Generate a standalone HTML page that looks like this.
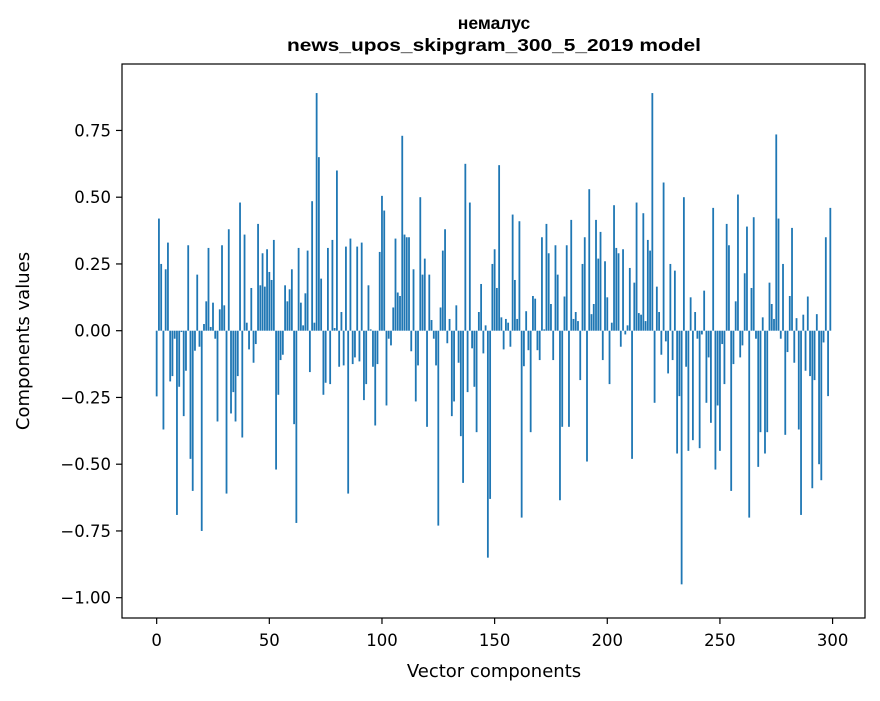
<!DOCTYPE html>
<html><head><meta charset="utf-8">
<style>
html,body{margin:0;padding:0;background:#fff;}
svg text{font-family:"DejaVu Sans","Liberation Sans",sans-serif;fill:#000;}
</style></head>
<body>
<svg id="chart" width="880" height="696" viewBox="0 0 880 696" xmlns="http://www.w3.org/2000/svg">
<rect width="880" height="696" fill="#fff"/>
<text x="494" y="29" text-anchor="middle" font-size="17.5" font-weight="bold" style="font-family:'Liberation Sans',sans-serif">немалус</text>
<text x="494" y="51" text-anchor="middle" font-size="17.5" font-weight="bold" textLength="414" lengthAdjust="spacingAndGlyphs" style="font-family:'Liberation Sans',sans-serif">news_upos_skipgram_300_5_2019 model</text>
<g id="bars"></g>
<g id="axes"></g>
<text x="494" y="677" text-anchor="middle" font-size="18">Vector components</text>
<text x="29" y="341" text-anchor="middle" font-size="18" transform="rotate(-90 29 341)">Components values</text>
</svg>
<script>
const values = [
-0.246,0.42,0.25,-0.37,0.23,0.33,-0.19,-0.17,-0.03,-0.69,
-0.21,-0.005,-0.32,-0.15,0.32,-0.48,-0.60,-0.075,0.21,-0.06,
-0.75,0.025,0.11,0.31,0.014,0.105,-0.03,-0.34,0.08,0.32,
0.095,-0.61,0.38,-0.31,-0.23,-0.34,-0.17,0.48,-0.40,0.36,
0.03,-0.07,0.16,-0.12,-0.05,0.40,0.17,0.29,0.165,0.305,
0.22,0.19,0.34,-0.52,-0.24,-0.11,-0.09,0.17,0.11,0.155,
0.23,-0.35,-0.72,0.31,0.105,0.02,0.14,0.30,-0.155,0.485,
0.03,0.89,0.65,0.195,-0.24,-0.195,0.31,-0.20,0.34,0.01,
0.60,-0.135,0.07,-0.13,0.315,-0.61,0.345,-0.125,-0.10,0.315,
-0.115,0.33,-0.26,-0.20,0.17,0.005,-0.135,-0.355,-0.125,0.295,
0.505,0.45,-0.28,-0.03,-0.055,0.087,0.345,0.143,0.13,0.73,
0.36,0.35,0.35,-0.077,0.23,-0.265,-0.13,0.50,0.21,0.27,
-0.36,0.21,0.04,-0.03,-0.13,-0.73,0.087,0.30,0.38,-0.047,
0.044,-0.32,-0.265,0.095,-0.12,-0.395,-0.57,0.625,-0.23,0.48,
-0.066,-0.21,-0.38,0.07,0.175,-0.085,0.02,-0.85,-0.63,0.25,
0.305,0.16,0.62,0.05,-0.07,0.044,0.03,-0.06,0.435,0.19,
0.044,0.41,-0.70,-0.133,0.073,-0.073,-0.38,0.13,0.12,-0.073,
-0.11,0.35,0.005,0.40,0.29,0.10,-0.11,0.32,0.21,-0.635,
-0.36,0.128,0.32,-0.36,0.415,0.044,0.07,0.036,-0.185,0.25,
0.35,-0.49,0.53,0.062,0.10,0.415,0.27,0.37,-0.11,0.26,
0.125,-0.20,0.03,0.47,0.31,0.29,-0.06,0.305,-0.014,0.02,
0.235,-0.48,0.18,0.48,0.066,0.06,0.44,0.036,0.34,0.30,
0.89,-0.27,0.165,0.07,-0.09,0.555,-0.04,-0.16,0.25,-0.11,
0.225,-0.46,-0.245,-0.95,0.50,-0.135,-0.45,0.125,-0.41,0.07,
-0.03,-0.44,-0.014,0.15,-0.27,-0.10,-0.345,0.46,-0.52,-0.28,
-0.45,-0.05,-0.20,0.40,0.32,-0.60,-0.125,0.11,0.51,-0.10,
-0.055,0.215,0.39,-0.70,0.16,0.425,-0.03,-0.51,-0.38,0.05,
-0.46,-0.38,0.18,0.10,0.044,0.735,0.42,-0.03,0.25,-0.39,
-0.08,0.13,0.385,-0.12,0.047,-0.37,-0.69,0.06,-0.15,0.128,
-0.17,-0.59,-0.185,0.062,-0.50,-0.56,-0.044,0.35,-0.245,0.46
];
const xTicks = [0,50,100,150,200,250,300];
const yTicks = [-1.00,-0.75,-0.50,-0.25,0.00,0.25,0.50,0.75];
const yTickLabels = ["\u22121.00","\u22120.75","\u22120.50","\u22120.25","0.00","0.25","0.50","0.75"];

const L=122, R=865, T=64, B=618;
const xMin=-15.39, xMax=314.39;
const yZero=330.7, yScale=267;
function xs(v){return L+(v-xMin)/(xMax-xMin)*(R-L);}
function ys(v){return yZero - v*yScale;}
const NS="http://www.w3.org/2000/svg";
const bars=document.getElementById('bars');
const bw=0.8*(R-L)/(xMax-xMin);
values.forEach((v,i)=>{
  const r=document.createElementNS(NS,'rect');
  const y0=ys(0), y1=ys(v);
  r.setAttribute('x',(xs(i)-bw/2).toFixed(2));
  r.setAttribute('y',Math.min(y0,y1).toFixed(2));
  r.setAttribute('width',bw.toFixed(2));
  r.setAttribute('height',Math.abs(y1-y0).toFixed(2));
  r.setAttribute('fill','#1f77b4');
  
  
  bars.appendChild(r);
});
const axes=document.getElementById('axes');
const frame=document.createElementNS(NS,'rect');
frame.setAttribute('x',L);frame.setAttribute('y',T);
frame.setAttribute('width',R-L);frame.setAttribute('height',B-T);
frame.setAttribute('fill','none');frame.setAttribute('stroke','#000');frame.setAttribute('stroke-width','1.2');


axes.appendChild(frame);
xTicks.forEach(t=>{
  const x=xs(t);
  const ln=document.createElementNS(NS,'line');
  ln.setAttribute('x1',x);ln.setAttribute('x2',x);ln.setAttribute('y1',B);ln.setAttribute('y2',B+6);
  ln.setAttribute('stroke','#000');ln.setAttribute('stroke-width','1.2');
  
  
  axes.appendChild(ln);
  const tx=document.createElementNS(NS,'text');
  tx.setAttribute('x',x);tx.setAttribute('y',B+28);tx.setAttribute('text-anchor','middle');tx.setAttribute('font-size','16.5');
  tx.textContent=String(t);
  
  
  axes.appendChild(tx);
});
yTicks.forEach((t,k)=>{
  const y=ys(t);
  const ln=document.createElementNS(NS,'line');
  ln.setAttribute('x1',L-6);ln.setAttribute('x2',L);ln.setAttribute('y1',y);ln.setAttribute('y2',y);
  ln.setAttribute('stroke','#000');ln.setAttribute('stroke-width','1.2');
  
  
  axes.appendChild(ln);
  const tx=document.createElementNS(NS,'text');
  tx.setAttribute('x',L-11);tx.setAttribute('y',y+6);tx.setAttribute('text-anchor','end');tx.setAttribute('font-size','16.5');
  tx.textContent=yTickLabels[k];
  
  
  axes.appendChild(tx);
});
</script>
</body></html>
